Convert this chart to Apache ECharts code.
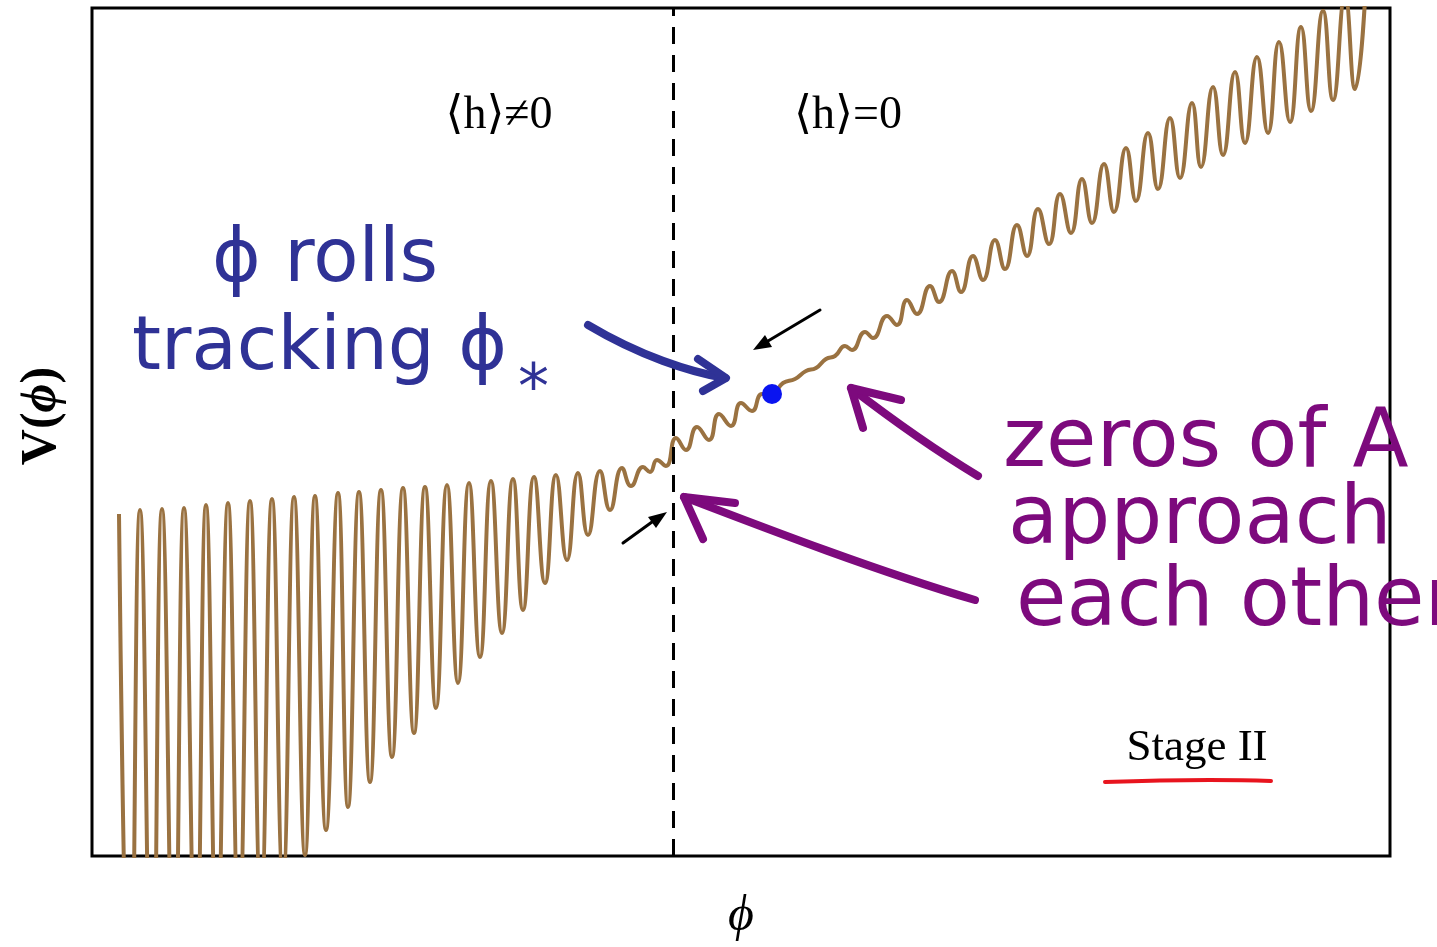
<!DOCTYPE html>
<html>
<head>
<meta charset="utf-8">
<script src="https://cdn.jsdelivr.net/npm/echarts@6/dist/echarts.min.js"></script>
<style>
  html, body { margin: 0; padding: 0; background: #fff; }
  #chart { width: 1437px; height: 947px; }
</style>
</head>
<body>
<div id="chart"></div>
<script>
  // turning points of V(phi) (arbitrary units)
  // broken phase, left of the transition
  const phiLeft = [2.7, 3.8, 4.8, 6.0, 7.0, 8.2, 9.2, 10.4, 11.4, 12.5, 13.6, 14.7, 15.8, 16.9, 18.0, 19.1, 20.2,
    21.3, 22.3, 23.4, 24.6, 25.6, 26.7, 27.8, 28.9, 30.0, 31.1, 32.2, 33.3, 34.4, 35.5, 36.6, 37.7, 38.8, 39.9,
    41.0, 42.1, 43.1, 44.2, 45.3, 46.4, 47.5, 48.6, 49.6, 50.8, 51.8, 53.0, 53.9, 55.1]
  const vLeft = [34.2, -19.9, 34.6, -17.4, 34.7, -14.9, 34.8, -12.4, 35.1, -9.9, 35.3, -7.4, 35.5, -4.9, 35.7, -2.4, 35.9,
    0.1, 36.0, 2.6, 36.3, 4.9, 36.4, 7.4, 36.6, 9.9, 36.8, 12.3, 36.9, 14.8, 37.1, 17.3, 37.3, 19.9, 37.5,
    22.3, 37.7, 24.6, 37.9, 27.3, 38.1, 29.6, 38.3, 32.1, 38.5, 34.6, 38.8, 37.0, 38.9]
  // around the two zeros of A
  const phiMid = [55.8, 56.5, 57.4, 58.4, 59.4, 60.5, 61.7, 62.7, 63.9, 64.9, 66.0, 67.0, 68.0, 69.1, 70.3, 71.4,
    72.4, 73.4, 74.3, 75.3, 76.0, 77.3, 78.1, 79.5, 80.5, 81.5, 82.5]
  const vMid = [38.4, 39.6, 39.0, 41.8, 40.6, 42.9, 41.6, 44.2, 43.0, 45.3, 44.5, 46.2, 46.2, 47.3, 47.7, 48.5,
    48.8, 49.7, 50.0, 51.0, 50.6, 52.4, 51.8, 54.0, 53.1, 55.6, 54.2]
  // unbroken phase, right side
  const phiRight = [83.8, 84.7, 86.0, 86.9, 88.1, 89.1, 90.3, 91.3, 92.5, 93.5, 94.6, 95.7, 96.8, 97.9, 99.0, 100.0,
    101.2, 102.2, 103.4, 104.4, 105.6, 106.6, 107.8, 108.8, 110.0, 110.9, 112.1, 113.1, 114.3, 115.3, 116.5,
    117.6, 118.7, 119.8, 120.9, 121.9, 123.1, 124.1, 125.3, 126.3, 127.4]
  const vRight = [57.0, 55.4, 58.5, 56.4, 60.0, 57.6, 61.6, 58.7, 63.1, 60.0, 64.7, 61.2, 66.2, 62.3, 67.7, 63.3,
    69.2, 64.4, 70.8, 65.5, 72.3, 66.7, 73.8, 67.8, 75.3, 68.9, 76.9, 70.1, 78.4, 71.3, 79.9,
    72.3, 81.4, 73.4, 82.9, 74.5, 84.5, 75.6, 86.0, 76.7, 87.5]

  const phiTransition = 58.1
  const phiStar = [68.0]
  const vStar = [46.2]

  const phiAll = phiLeft.concat(phiMid, phiRight)
  const vAll = vLeft.concat(vMid, vRight)
  const curve = phiAll.map((p, i) => [p, vAll[i]])

  const serif = 'Liberation Serif, DejaVu Serif, serif'
  const hand = 'DejaVu Sans, sans-serif'
  const blue = '#2f3296'
  const purple = '#7d0a7d'

  function txt (text, x, y, size, color, extra) {
    return {
      type: 'text', x: x, y: y, z: 10,
      style: Object.assign({
        text: text, fill: color, fontSize: size, fontFamily: hand,
        align: 'left', verticalAlign: 'middle'
      }, extra || {})
    }
  }
  function stroke (shapeType, shape, color, w) {
    return {
      type: shapeType, z: 10, shape: shape,
      style: { stroke: color, lineWidth: w, fill: null, lineCap: 'round', lineJoin: 'round' }
    }
  }

  const chart = echarts.init(document.getElementById('chart'))
  const option = {
    animation: false,
    backgroundColor: '#fff',
    grid: {
      left: 92, top: 8, right: 47, bottom: 91,
      show: true, borderColor: '#000', borderWidth: 3, backgroundColor: 'transparent'
    },
    xAxis: {
      type: 'value', min: 0, max: 129.8,
      axisLine: { show: false }, axisTick: { show: false }, axisLabel: { show: false }, splitLine: { show: false },
      name: 'ϕ', nameLocation: 'middle', nameGap: 36,
      nameTextStyle: { fontFamily: serif, fontStyle: 'italic', fontSize: 50, color: '#000' }
    },
    yAxis: {
      type: 'value', min: 0, max: 84.8,
      axisLine: { show: false }, axisTick: { show: false }, axisLabel: { show: false }, splitLine: { show: false }
    },
    series: [
      {
        type: 'line',
        data: curve,
        smooth: 0.5,
        showSymbol: false,
        clip: true,
        lineStyle: { color: '#9a7241', width: 4 },
        markLine: {
          silent: true,
          symbol: 'none',
          label: { show: false },
          lineStyle: { color: '#000', width: 3, type: [17, 11] },
          data: [{ xAxis: phiTransition }]
        }
      },
      {
        type: 'scatter',
        data: phiStar.map((p, i) => [p, vStar[i]]),
        symbolSize: 20,
        itemStyle: { color: '#0a14f0', opacity: 1 },
        z: 5
      }
    ],
    graphic: [
      // axis label V(phi)
      {
        type: 'text', x: 42, y: 416, rotation: Math.PI / 2,
        style: {
          text: '{b|V(}{i|ϕ}{b|)}',
          align: 'center', verticalAlign: 'middle',
          rich: {
            b: { fontFamily: serif, fontWeight: 'bold', fontSize: 50, fill: '#000' },
            i: { fontFamily: serif, fontWeight: 'bold', fontStyle: 'italic', fontSize: 50, fill: '#000' }
          }
        }
      },
      txt('⟨h⟩≠0', 499, 116, 46, '#000', { fontFamily: serif, align: 'center' }),
      txt('⟨h⟩=0', 848, 116, 46, '#000', { fontFamily: serif, align: 'center' }),
      txt('Stage II', 1197, 748, 45, '#000', { fontFamily: serif, align: 'center' }),
      stroke('bezierCurve', { x1: 1105, y1: 782, cpx1: 1160, cpy1: 780, cpx2: 1220, cpy2: 779, x2: 1271, y2: 781 }, '#e8141e', 4),

      // handwritten notes
      txt('ϕ rolls', 212, 262, 74, blue),
      txt('tracking ϕ', 132, 350, 74, blue),
      txt('*', 518, 392, 62, blue),
      txt('zeros of A', 1003, 445, 82, purple),
      txt('approach', 1008, 522, 82, purple),
      txt('each other', 1016, 604, 82, purple),

      // blue arrow
      stroke('bezierCurve', { x1: 588, y1: 325, cpx1: 640, cpy1: 356, cpx2: 690, cpy2: 372, x2: 725, y2: 378 }, blue, 8),
      stroke('polyline', { points: [[698, 359], [726, 378], [703, 391]] }, blue, 8),

      // purple arrows
      stroke('bezierCurve', { x1: 978, y1: 476, cpx1: 935, cpy1: 450, cpx2: 890, cpy2: 418, x2: 851, y2: 388 }, purple, 8),
      stroke('polyline', { points: [[901, 400], [851, 388], [863, 428]] }, purple, 8),
      stroke('bezierCurve', { x1: 975, y1: 600, cpx1: 880, cpy1: 572, cpx2: 770, cpy2: 530, x2: 684, y2: 497 }, purple, 8),
      stroke('polyline', { points: [[735, 503], [684, 497], [703, 539]] }, purple, 8),

      // black arrows
      stroke('line', { x1: 820, y1: 310, x2: 768, y2: 341 }, '#000', 3),
      { type: 'polygon', z: 10, shape: { points: [[753, 350], [772, 347], [765, 335]] }, style: { fill: '#000' } },
      stroke('line', { x1: 623, y1: 543, x2: 652, y2: 522 }, '#000', 3),
      { type: 'polygon', z: 10, shape: { points: [[667, 512], [656, 528], [648, 517]] }, style: { fill: '#000' } }
    ]
  }
  chart.setOption(option)
  window.addEventListener('resize', () => {
    chart.resize()
  })
</script>
</body>
</html>
